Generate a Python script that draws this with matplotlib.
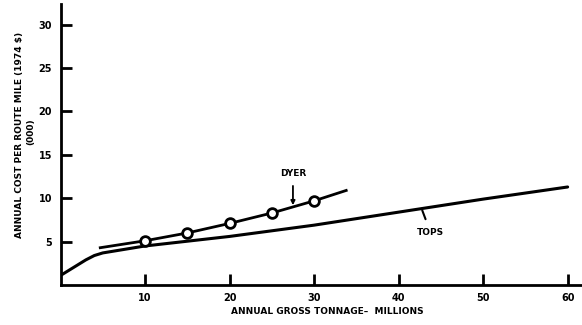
import matplotlib.pyplot as plt

# TOPS cost curve (thousand 1974 $ per route mile)
tops_x = [0, 1, 2, 3, 4, 5, 10, 20, 30, 40, 50, 60]
tops_y = [1.1, 1.7, 2.3, 2.9, 3.4, 3.7, 4.5, 5.6, 6.9, 8.4, 9.9, 11.3]

# DYER line and its plotted points
dyer_line_x = [4.7, 10, 15, 20, 25, 30, 33.8]
dyer_line_y = [4.3, 5.1, 6.0, 7.1, 8.3, 9.7, 10.9]
dyer_pts_x = [10, 15, 20, 25, 30]
dyer_pts_y = [5.1, 6.0, 7.1, 8.3, 9.7]

x_ticks = [10, 20, 30, 40, 50, 60]
y_ticks = [5, 10, 15, 20, 25, 30]

fig = plt.figure(figsize=(5.82, 3.25), dpi=100)
ax = fig.add_axes([0.104, 0.123, 0.896, 0.865])

ax.plot(tops_x, tops_y, color='black', lw=2.2, solid_capstyle='round')
ax.plot(dyer_line_x, dyer_line_y, color='black', lw=2.0)
ax.plot(dyer_pts_x, dyer_pts_y, 'o', ms=7, mfc='white', mec='black', mew=2.0)

ax.set_xlim(0, 61.7)
ax.set_ylim(0, 32.4)
ax.set_xticks(x_ticks)
ax.set_yticks(y_ticks)
ax.tick_params(direction='in', length=8, width=2, labelsize=7, pad=6)
for lab in ax.get_xticklabels() + ax.get_yticklabels():
    lab.set_fontweight('bold')
for s in ['top', 'right']:
    ax.spines[s].set_visible(False)
for s in ['left', 'bottom']:
    ax.spines[s].set_linewidth(2)

# annotations
ax.annotate('DYER', xy=(27.5, 9.2), xytext=(27.5, 12.9), ha='center', va='center',
            fontsize=6.5, fontweight='bold',
            arrowprops=dict(arrowstyle='-|>', color='black', lw=1.3, mutation_scale=6,
                            shrinkA=4, shrinkB=0))
ax.annotate('TOPS', xy=(42.8, 8.6), xytext=(43.8, 6.0), ha='center', va='center',
            fontsize=6.5, fontweight='bold',
            arrowprops=dict(arrowstyle='-', color='black', lw=1.5, shrinkA=5, shrinkB=0))

fig.text(0.034, 0.585, 'ANNUAL COST PER ROUTE MILE (1974 $)', rotation=90,
         ha='center', va='center', fontsize=6.5, fontweight='bold')
fig.text(0.052, 0.595, '(000)', rotation=90, ha='center', va='center',
         fontsize=6.5, fontweight='bold')
fig.text(0.563, 0.043, 'ANNUAL GROSS TONNAGE\u2013  MILLIONS', ha='center', va='center',
         fontsize=6.5, fontweight='bold')

fig.savefig('out.png', dpi=100)
